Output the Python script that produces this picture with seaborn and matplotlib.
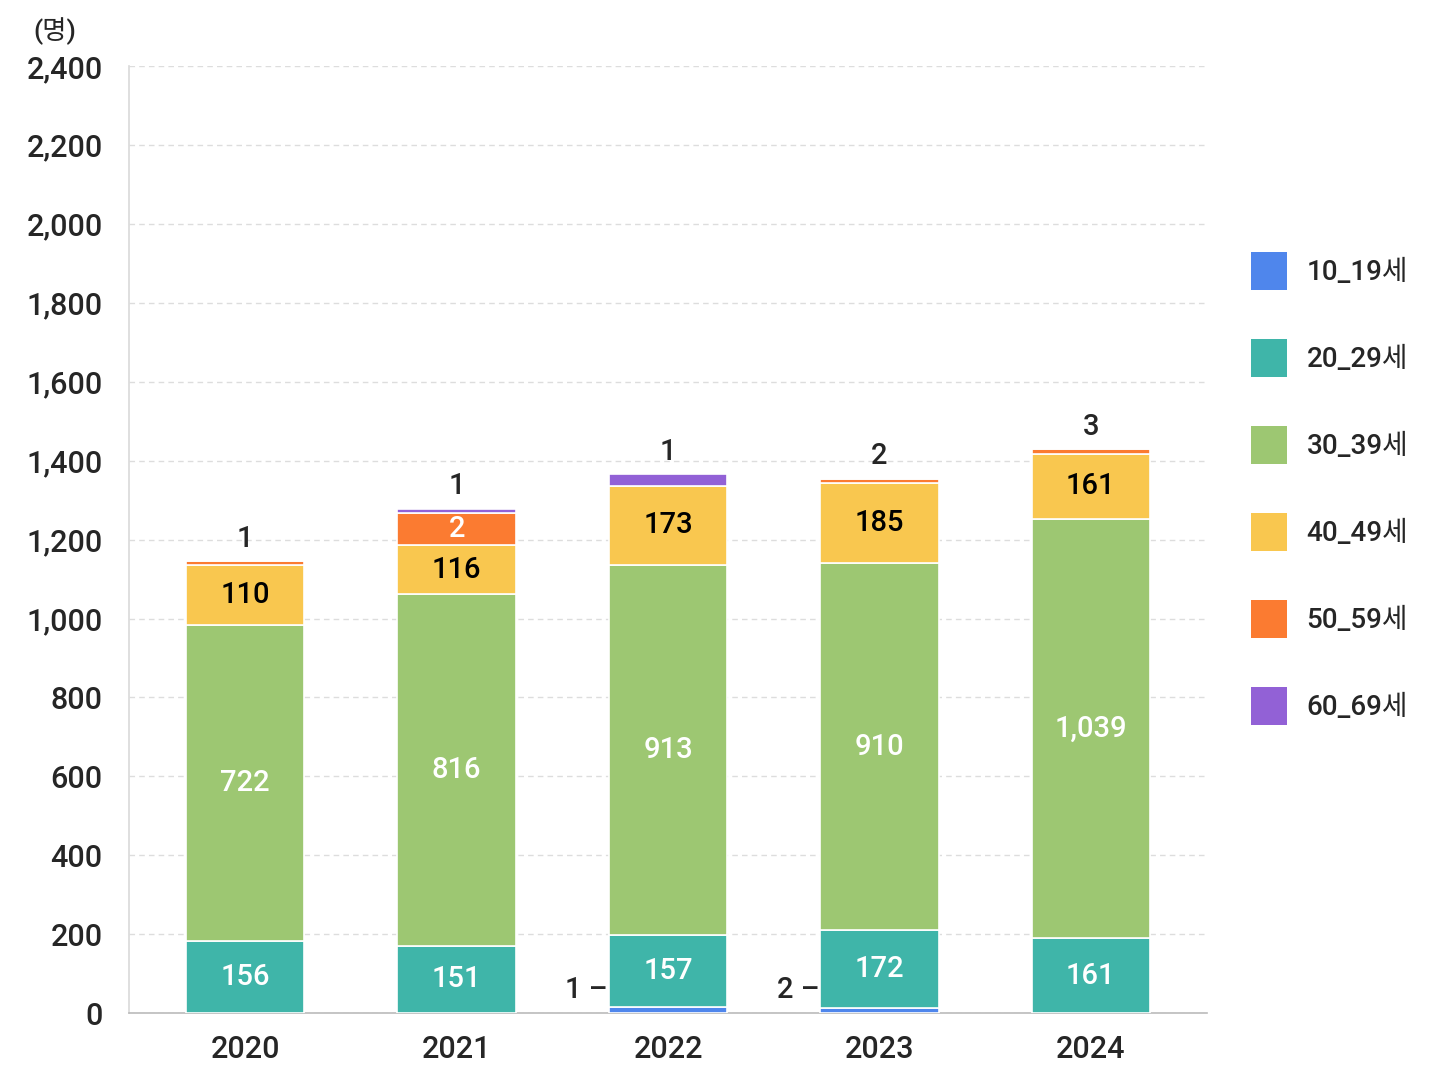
import numpy as np
import pandas as pd
import seaborn as sns
import matplotlib.pyplot as plt
from matplotlib.patches import Patch

# 연도별 연령대 인원 (막대 높이는 그림에서 읽은 값)
years = ['2020', '2021', '2022', '2023', '2024']
ages = ['10_19세', '20_29세', '30_39세', '40_49세', '50_59세', '60_69세']
colors = ['#4f86ec', '#3fb5a9', '#9dc772', '#f9c74f', '#fb7b31', '#9261d6']

age10 = [0, 0, 14, 12, 0]
age20 = [182, 170, 184, 198, 190]
age30 = [801, 892, 938, 931, 1063]
age40 = [153, 124, 201, 203, 165]
age50 = [10, 81, 0, 11, 11]
age60 = [0, 12, 29, 0, 0]

# 표시 라벨
lbl20 = ['156', '151', '157', '172', '161']
lbl30 = ['722', '816', '913', '910', '1,039']
lbl40 = ['110', '116', '173', '185', '161']
lbl50_in = ['', '2', '', '', '']
lbl_top = ['1', '1', '1', '2', '3']
lbl_side = ['', '', '1', '2', '']

sns.set_style('white')
plt.rcParams['font.family'] = ['Roboto', 'Noto Sans CJK KR', 'DejaVu Sans']
plt.rcParams['font.weight'] = 'medium'

fig = plt.figure(figsize=(14.48, 10.86), dpi=100)
ax = fig.add_axes([0.0891, 0.0672, 0.7445, 0.8717])

layers = [age10, age20, age30, age40, age50, age60]
bw = 0.56
bottom = np.zeros(len(years))
bottoms = []
for vals, col in zip(layers, colors):
    df = pd.DataFrame({'year': years, 'n': vals})
    sns.barplot(data=df, x='year', y='n', color=col, width=bw, bottom=bottom,
                edgecolor='white', linewidth=1.2, saturation=1, ax=ax, zorder=3)
    bottoms.append(bottom.copy())
    bottom = bottom + np.array(vals)

# 막대 안 라벨
for k, (labels, tc) in enumerate([(lbl20, 'white'), (lbl30, 'white'), (lbl40, 'black')]):
    li = k + 1
    for i, t in enumerate(labels):
        y = bottoms[li][i] + layers[li][i] / 2
        ax.text(i, y, t, ha='center', va='center', color=tc, fontsize=21, zorder=5)
for i, t in enumerate(lbl50_in):
    if t:
        ax.text(i, bottoms[4][i] + age50[i] / 2, t, ha='center', va='center',
                color='white', fontsize=21, zorder=5)

# 막대 위 라벨
for i, t in enumerate(lbl_top):
    ax.annotate(t, (i, bottom[i]), xytext=(0, 16), textcoords='offset points',
                ha='center', va='center', fontsize=21, zorder=5)

# 왼쪽 라벨 (10_19세)
for i, t in enumerate(lbl_side):
    if t:
        ax.text(i - bw / 2 - 0.005, 58, t + ' –', ha='right', va='center',
                fontsize=21, zorder=5)

ax.set_ylim(0, 2400)
ax.set_xlim(-0.55, 4.55)
ax.set_yticks(range(0, 2401, 200))
ax.set_yticklabels([f'{v:,}' for v in range(0, 2401, 200)])
ax.yaxis.grid(True, color='#dddddd', linestyle=(0, (4, 3)), linewidth=1)
ax.set_axisbelow(True)
ax.set_xlabel('')
ax.set_ylabel('')
ax.tick_params(axis='y', length=0, pad=19, labelsize=22)
ax.tick_params(axis='x', length=0, pad=16, labelsize=22)
for s in ['top', 'right']:
    ax.spines[s].set_visible(False)
ax.spines['left'].set_color('#d9d9d9')
ax.spines['bottom'].set_color('#bbbbbb')
ax.spines['left'].set_linewidth(1.2)
ax.spines['bottom'].set_linewidth(1.2)

fig.text(0.038, 0.971, '(명)', ha='center', va='center', fontsize=19)

handles = [Patch(facecolor=c, edgecolor='none', label=a) for a, c in zip(ages, colors)]
fig.legend(handles=handles, loc='upper left', bbox_to_anchor=(0.864, 0.768),
           frameon=False, fontsize=20, handlelength=1.3, handleheight=1.75,
           handletextpad=0.7, labelspacing=1.75, borderpad=0, borderaxespad=0)

fig.savefig('out.png', dpi=100, facecolor='white')
